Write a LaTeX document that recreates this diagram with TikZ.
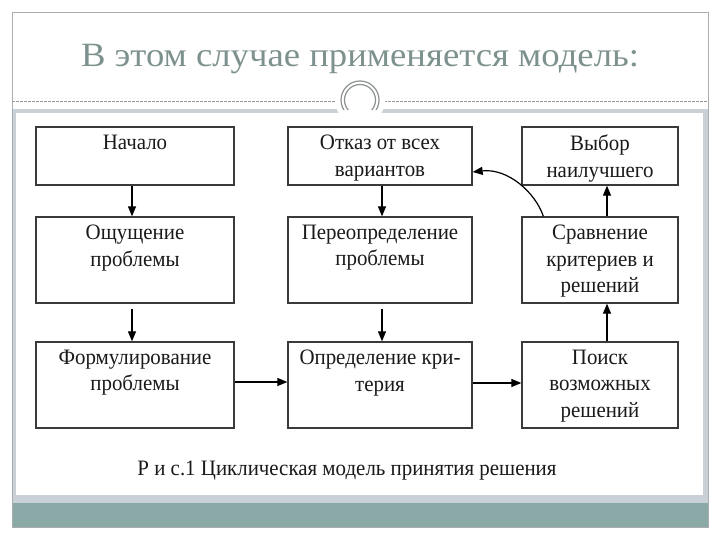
\documentclass[tikz,border=0pt]{standalone}
\usepackage{fontspec}
\setmainfont{Liberation Serif}
\newfontfamily\boxfont[FakeStretch=0.95]{Liberation Serif}
\newfontfamily\titlefont[FakeStretch=1.08]{Liberation Serif}
\usetikzlibrary{arrows.meta}
\definecolor{titlecol}{HTML}{7D928E}
\definecolor{bandcol}{HTML}{8BA9A6}
\definecolor{panelcol}{HTML}{C9D1D6}
\definecolor{framecol}{HTML}{A9ADAF}
\definecolor{ringcol}{HTML}{8C9292}
\definecolor{boxline}{HTML}{3A3A3A}
\definecolor{textcol}{HTML}{1A1A1A}
\tikzset{
  boxnode/.style={draw=boxline, line width=1.3pt, fill=white, inner sep=0pt},
  txt/.style={anchor=north, inner sep=0pt, align=center, text=textcol, font=\boxfont\fontsize{22}{26.5}\selectfont},
  arr/.style={-{Triangle[length=10pt,width=8pt]}, line width=1.2pt, black},
}
\begin{document}
\begin{tikzpicture}[x=1pt,y=-1pt]
\useasboundingbox (0,0) rectangle (720,540);
% frame and background
\draw[gray!80, dash pattern=on 2.5pt off 1.5pt, line width=0.6pt] (12,101) -- (708,101);
\fill[panelcol] (12,109) rectangle (708,503);
\fill[white] (16,113) rectangle (703,495);
\fill[bandcol] (12,503) rectangle (708,527);
\draw[framecol, line width=0.8pt] (12,12) rectangle (708,527);
\begin{scope}
\clip (300,70) rectangle (420,113);
\fill[white] (360,100) circle[radius=25];
\end{scope}
\begin{scope}
\clip (300,70) rectangle (420,110);
\draw[ringcol, line width=1.2pt] (360,100) circle[radius=19];
\draw[ringcol, line width=1.2pt] (360,100) circle[radius=15.5];
\end{scope}
% title
\node[anchor=base, text=titlecol, font=\titlefont\fontsize{34}{40}\selectfont, inner sep=0pt] (title) at (360,67) {В этом случае применяется модель:};
% boxes
\node[boxnode, minimum width=198pt, minimum height=58pt] (b11) at (135,156) {};
\node[boxnode, minimum width=198pt, minimum height=86pt] (b21) at (135,260) {};
\node[boxnode, minimum width=198pt, minimum height=86pt] (b31) at (135,385) {};
\node[boxnode, minimum width=184pt, minimum height=58pt] (b12) at (380,156) {};
\node[boxnode, minimum width=184pt, minimum height=86pt] (b22) at (380,260) {};
\node[boxnode, minimum width=184pt, minimum height=86pt] (b32) at (380,385) {};
\node[boxnode, minimum width=156pt, minimum height=58pt] (b13) at (600,156) {};
\node[boxnode, minimum width=156pt, minimum height=86pt] (b23) at (600,260) {};
\node[boxnode, minimum width=156pt, minimum height=86pt] (b33) at (600,385) {};
% texts
\node[txt] (t11) at ([yshift=-8.5pt]b11.north) {Начало};
\node[txt] (t21) at ([yshift=-8.5pt]b21.north) {Ощущение\\проблемы};
\node[txt] (t31) at ([yshift=-8.5pt]b31.north) {Формулирование\\проблемы};
\node[txt] (t12) at ([yshift=-8.5pt]b12.north) {Отказ от всех\\вариантов};
\node[txt] (t22) at ([yshift=-8.5pt]b22.north) {Переопределение\\проблемы};
\node[txt] (t32) at ([yshift=-8.5pt]b32.north) {Определение кри-\\терия};
\node[txt] (t13) at ([yshift=-8.5pt]b13.north) {Выбор\\наилучшего};
\node[txt] (t23) at ([yshift=-8.5pt]b23.north) {Сравнение\\критериев и\\решений};
\node[txt] (t33) at ([yshift=-8.5pt]b33.north) {Поиск\\возможных\\решений};
% caption
\node[anchor=base, inner sep=0pt, text=textcol, font=\boxfont\fontsize{22}{26}\selectfont] (cap) at (347,475) {Р и с.1 Циклическая модель принятия решения};
% arrows
\draw[arr] ([xshift=-3pt]b11.south) -- ([xshift=-3pt]b21.north);
\draw[arr, shorten <=5pt] ([xshift=-3pt]b21.south) -- ([xshift=-3pt]b31.north);
\draw[arr] ([xshift=2pt]b12.south) -- ([xshift=2pt]b22.north);
\draw[arr, shorten <=5pt] ([xshift=2pt]b22.south) -- ([xshift=2pt]b32.north);
\draw[arr] ([yshift=3pt]b31.east) -- ([yshift=3pt]b32.west);
\draw[arr] ([yshift=2pt]b32.east) -- ([yshift=2pt]b33.west);
\draw[arr] ([xshift=7pt]b33.north) -- ([xshift=7pt]b23.south);
\draw[arr] ([xshift=7pt]b23.north) -- ([xshift=7pt]b13.south);
\draw[arr] ([xshift=22pt]b23.north west) .. controls +(-8,-24) and +(35,-4) .. ([yshift=-16pt]b12.east);
\end{tikzpicture}
\end{document}
